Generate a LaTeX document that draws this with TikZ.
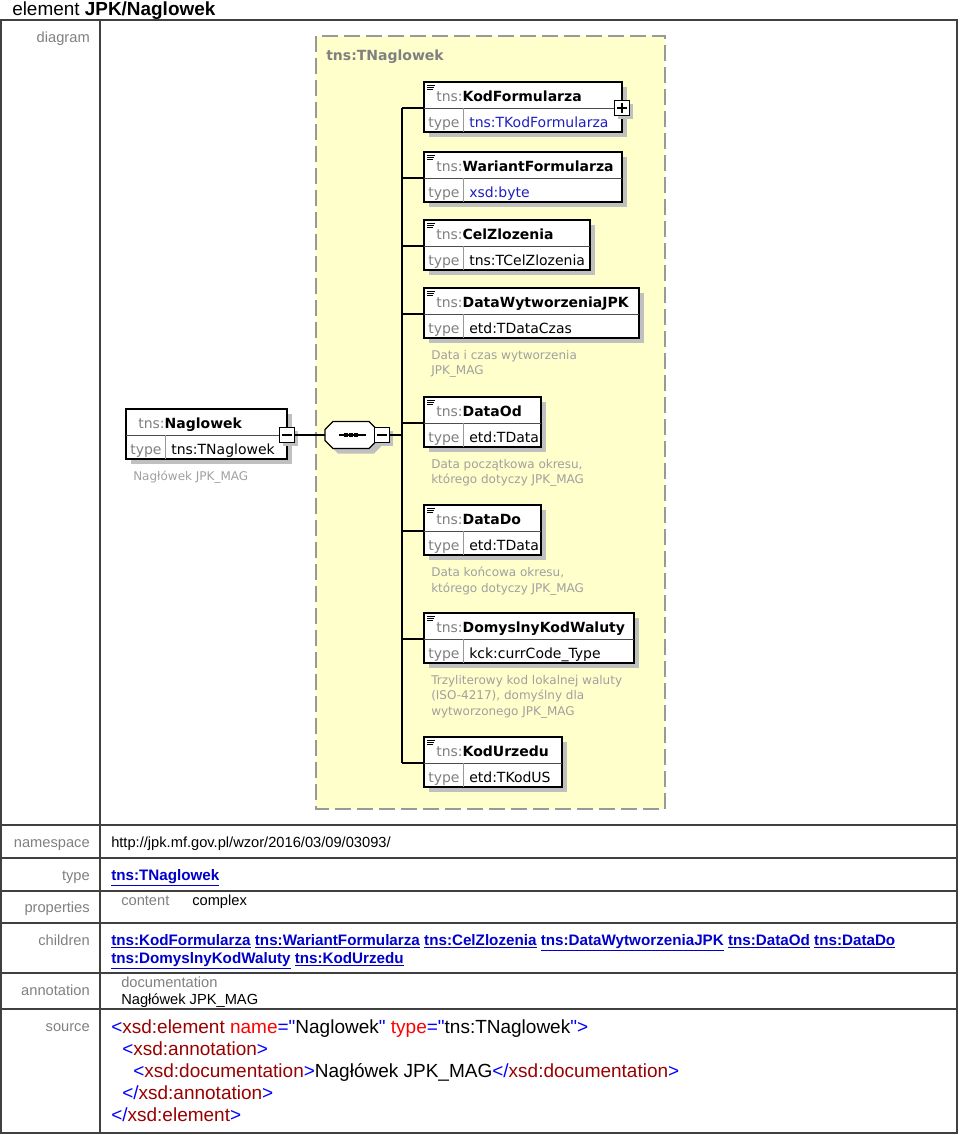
\documentclass[tikz,border=0pt]{standalone}
\usepackage{fontspec}
\setmainfont{Liberation Sans}
\newfontfamily\diagfont{DejaVu Sans}
\newfontfamily\srcfont{Liberation Sans}[Ligatures=TeXOff]
\usetikzlibrary{positioning,calc,shadows}

\definecolor{lblgray}{HTML}{808080}
\definecolor{tnsgray}{HTML}{808080}
\definecolor{docgray}{HTML}{A0A0A0}
\definecolor{groupfill}{HTML}{FFFFCC}
\definecolor{groupline}{HTML}{999999}
\definecolor{shadowgray}{HTML}{C0C0C0}
\definecolor{typeblue}{HTML}{1F1FC0}
\definecolor{linkblue}{HTML}{0000CC}
\definecolor{tagblue}{HTML}{0000FF}
\definecolor{tagred}{HTML}{990000}
\definecolor{attrred}{HTML}{FF0000}

\newcommand{\brk}[1]{\textcolor{tagblue}{#1}}
\newcommand{\tagn}[1]{\textcolor{tagred}{#1}}
\newcommand{\attr}[1]{\textcolor{attrred}{#1}}
\newcommand{\lnk}[1]{\underline{\textbf{#1}}}
% octagon of the sequence compositor, from its top left corner
\newcommand{\octpath}{++(8,0) -- ++(36,0) -- ++(8,8) -- ++(0,11) -- ++(-8,8) -- ++(-36,0) -- ++(-8,-8) -- ++(0,-11) -- cycle}

% element box: name, top left, width, label, type, type colour
\newcommand{\xsdelem}[6]{%
  \node[elembox, minimum width=#3*0.75pt] (#1) at #2 {};
  \coordinate (#1-in) at ($(#1.north west)+(0,26)$);
  \draw[rowline] (#1-in) -- (#1-in -| #1.east);
  \draw[colline] ($(#1.south west)+(39,0)$) -- ($(#1-in)+(39,0)$);
  \node[diagtext] (#1-name) at ($(#1.north west)+(12,19)$) {\textcolor{tnsgray}{tns:}\textbf{#4}};
  \node[diagtext, text=tnsgray] (#1-kind) at ($(#1.north west)+(4,45)$) {type};
  \node[diagtext, text=#6] (#1-type) at ($(#1.north west)+(45,45)$) {#5};
}

\begin{document}
\begin{tikzpicture}[x=0.75pt, y=-0.75pt,
  elembox/.style={draw, line width=1.1pt, fill=white, minimum height=37.5pt,
    inner sep=0pt, outer sep=0pt, anchor=north west,
    drop shadow={shadow xshift=3.75pt, shadow yshift=-3.75pt, fill=shadowgray, opacity=1}},
  pmbox/.style={draw, line width=1pt, fill=white, minimum size=11.25pt, inner sep=0pt,
    drop shadow={shadow xshift=2.5pt, shadow yshift=-2.5pt, fill=shadowgray, opacity=1}},
  sign/.style={line width=1pt},
  rowline/.style={line width=0.6pt, black!70},
  colline/.style={line width=0.6pt, black!40},
  conn/.style={line width=1.1pt},
  diagtext/.style={anchor=base west, inner sep=0pt, font=\diagfont\fontsize{10.5}{12}\selectfont},
  doctext/.style={anchor=north west, align=left, inner sep=0pt, text=docgray,
    font=\diagfont\fontsize{9}{11.6}\selectfont},
  rowlbl/.style={anchor=base east, inner sep=0pt, text=lblgray, font=\fontsize{11}{13}\selectfont},
  valtext/.style={anchor=base west, inner sep=0pt, font=\fontsize{11}{13}\selectfont},
  linktext/.style={valtext, text=linkblue, font=\fontsize{11.4}{13}\selectfont},
  srctext/.style={anchor=base west, inner sep=0pt, font=\srcfont\fontsize{14.25}{16}\selectfont},
  tblline/.style={line width=0.8pt, black!75}]
\useasboundingbox (0,0) rectangle (960,1135);

% Title and table
\node[anchor=base west, inner sep=0pt, font=\fontsize{14.2}{16}\selectfont] (title) at (12,15.5) {element \textbf{JPK/Naglowek}};
\draw[tblline] (1,20) rectangle (957,1133);
\draw[tblline] (100,20) -- (100,1133);
\foreach \yy in {825,858,891,923,973,1009}
  \draw[tblline] (1,\yy) -- (957,\yy);
\foreach \lbl/\yy in {diagram/42,namespace/847,type/880,properties/912,children/945,annotation/995,source/1031}
  \node[rowlbl] (lbl-\lbl) at (90,\yy) {\lbl};

% Group type
\draw[groupline, fill=groupfill, line width=1.5pt, dash pattern=on 12pt off 4.5pt] (316,36) rectangle (665,809);
\node[diagtext, text=tnsgray] (group) at (326,60) {\textbf{tns:TNaglowek}};

% Root element
\xsdelem{root}{(126,409)}{161}{Naglowek}{tns:TNaglowek}{black}
\node[doctext] (root-doc) at ($(root.south west)+(7,12)$) {Nagłówek JPK\_MAG};
\node[pmbox] (root-minus) at (root-in -| root.east) {};
\draw[sign] ($(root-minus.west)+(3,0)$) -- ($(root-minus.east)+(-3,0)$);

% Sequence
\node[inner sep=0pt, outer sep=0pt, minimum width=39pt, minimum height=20.25pt] (seq) at (351,435) {};
\fill[shadowgray] ($(seq.north west)+(5,5)$) \octpath;
\draw[line width=1pt, fill=white] (seq.north west) \octpath;
\draw[line width=1pt] ($(seq.center)+(-12,0)$) -- ($(seq.center)+(15,0)$);
\foreach \dx in {-7,-2,3}
  \fill ($(seq.center)+(\dx,-2)$) rectangle ++(4,4);
\node[pmbox] (seq-minus) at ($(seq.east)+(5,0)$) {};
\draw[sign] ($(seq-minus.west)+(3,0)$) -- ($(seq-minus.east)+(-3,0)$);
\coordinate (spine) at (402,435);

% Child elements
\xsdelem{kod}{(424,82)}{198}{KodFormularza}{tns:TKodFormularza}{typeblue}
\xsdelem{war}{(424,152)}{198}{WariantFormularza}{xsd:byte}{typeblue}
\xsdelem{cel}{(424,220)}{166}{CelZlozenia}{tns:TCelZlozenia}{black}
\xsdelem{dwj}{(424,288)}{215}{DataWytworzeniaJPK}{etd:TDataCzas}{black}
\xsdelem{dod}{(424,397)}{117}{DataOd}{etd:TData}{black}
\xsdelem{ddo}{(424,505)}{117}{DataDo}{etd:TData}{black}
\xsdelem{dkw}{(424,613)}{210}{DomyslnyKodWaluty}{kck:currCode\_Type}{black}
\xsdelem{kur}{(424,737)}{138}{KodUrzedu}{etd:TKodUS}{black}

\node[pmbox] (kod-plus) at (kod-in -| kod.east) {};
\draw[sign] ($(kod-plus.west)+(3,0)$) -- ($(kod-plus.east)+(-3,0)$);
\draw[sign] ($(kod-plus.north)+(0,3)$) -- ($(kod-plus.south)+(0,-3)$);

% Icons
\foreach \e in {kod,war,cel,dwj,dod,ddo,dkw,kur}
  \foreach \off/\len in {0/8,2/7,4/6}
    \draw[line width=0.7pt] ($(\e.north west)+(3,3.5+\off)$) -- ++(\len,0);

% Documentation
\node[doctext] (dwj-doc) at ($(dwj.south west)+(7,12)$) {Data i czas wytworzenia\\JPK\_MAG};
\node[doctext] (dod-doc) at ($(dod.south west)+(7,12)$) {Data początkowa okresu,\\którego dotyczy JPK\_MAG};
\node[doctext] (ddo-doc) at ($(ddo.south west)+(7,12)$) {Data końcowa okresu,\\którego dotyczy JPK\_MAG};
\node[doctext] (dkw-doc) at ($(dkw.south west)+(7,12)$) {Trzyliterowy kod lokalnej waluty\\(ISO-4217), domyślny dla\\wytworzonego JPK\_MAG};

% Connectors
\draw[conn] (root-minus.east) -- (seq.west);
\draw[conn] (seq-minus.east) -- (spine);
\draw[conn] (kod-in -| spine) -- (kur-in -| spine);
\foreach \e in {kod,war,cel,dwj,dod,ddo,dkw,kur}
  \draw[conn] (\e-in -| spine) -- (\e-in);

% Values
\node[valtext] (ns) at (111,847) {http://jpk.mf.gov.pl/wzor/2016/03/09/03093/};
\node[linktext] (typ) at (111,880) {\lnk{tns:TNaglowek}};
\node[valtext, text=lblgray] (cont) at (121,905) {content};
\node[valtext] (cplx) at (192,905) {complex};
\node[linktext] (kids1) at (111,945) {\lnk{tns:KodFormularza} \lnk{tns:WariantFormularza} \lnk{tns:CelZlozenia} \lnk{tns:DataWytworzeniaJPK} \lnk{tns:DataOd} \lnk{tns:DataDo}};
\node[linktext] (kids2) at (111,963) {\lnk{tns:DomyslnyKodWaluty} \lnk{tns:KodUrzedu}};
\node[valtext, text=lblgray] (docl) at (121,987) {documentation};
\node[valtext] (doct) at (121,1004) {Nagłówek JPK\_MAG};

% Source
\node[srctext] (src1) at (111,1033) {\brk{<}\tagn{xsd:element} \attr{name}\brk{="}Naglowek\brk{"} \attr{type}\brk{="}tns:TNaglowek\brk{">}};
\node[srctext] (src2) at (122,1055) {\brk{<}\tagn{xsd:annotation}\brk{>}};
\node[srctext] (src3) at (133,1077) {\brk{<}\tagn{xsd:documentation}\brk{>}Nagłówek JPK\_MAG\brk{</}\tagn{xsd:documentation}\brk{>}};
\node[srctext] (src4) at (122,1099) {\brk{</}\tagn{xsd:annotation}\brk{>}};
\node[srctext] (src5) at (111,1121) {\brk{</}\tagn{xsd:element}\brk{>}};
\end{tikzpicture}
\end{document}
